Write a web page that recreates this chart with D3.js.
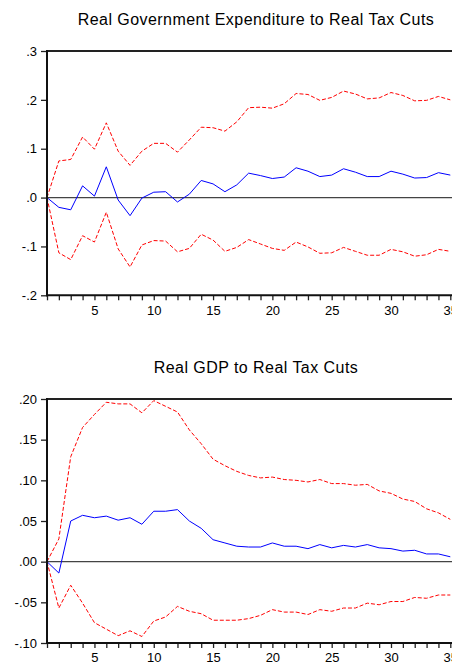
<!DOCTYPE html>
<html>
<head>
<meta charset="utf-8">
<script src="https://cdn.jsdelivr.net/npm/d3@7"></script>
<style>
  html, body { margin: 0; padding: 0; background: #fff; }
  svg { display: block; }
  text { font-family: "Liberation Sans", Arial, sans-serif; fill: #000; }
</style>
</head>
<body>
<svg id="chart" width="452" height="665"></svg>
<script>
// Impulse responses (periods 1..35) with +/- 2 S.E. bands
const periods = d3.range(1, 36);

const govTitle = "Real Government Expenditure to Real Tax Cuts";
const govResponse = [0, -0.020, -0.025, 0.024, 0.003, 0.063, -0.005, -0.037, -0.001, 0.011,
  0.012, -0.009, 0.007, 0.035, 0.028, 0.012, 0.026, 0.050, 0.045, 0.039,
  0.042, 0.061, 0.054, 0.043, 0.046, 0.059, 0.052, 0.043, 0.043, 0.054,
  0.048, 0.040, 0.041, 0.051, 0.046];
const govUpper = [0, 0.075, 0.078, 0.124, 0.099, 0.153, 0.095, 0.066, 0.095, 0.111,
  0.111, 0.093, 0.118, 0.144, 0.143, 0.136, 0.155, 0.184, 0.185, 0.183,
  0.192, 0.213, 0.211, 0.199, 0.205, 0.218, 0.212, 0.202, 0.204, 0.215,
  0.209, 0.198, 0.199, 0.207, 0.200];
const govLower = [0, -0.113, -0.127, -0.078, -0.091, -0.030, -0.105, -0.142, -0.097, -0.088,
  -0.089, -0.111, -0.104, -0.075, -0.087, -0.110, -0.102, -0.086, -0.095, -0.104,
  -0.108, -0.091, -0.101, -0.114, -0.113, -0.102, -0.110, -0.118, -0.118, -0.106,
  -0.111, -0.120, -0.117, -0.106, -0.110];
const govTicks = [-0.2, -0.1, 0, 0.1, 0.2, 0.3];
const govTickLabels = ["-.2", "-.1", ".0", ".1", ".2", ".3"];

const gdpTitle = "Real GDP to Real Tax Cuts";
const gdpResponse = [0, -0.014, 0.050, 0.057, 0.054, 0.056, 0.051, 0.054, 0.046, 0.062,
  0.062, 0.064, 0.050, 0.041, 0.027, 0.023, 0.019, 0.018, 0.018, 0.023,
  0.019, 0.019, 0.016, 0.021, 0.017, 0.020, 0.018, 0.021, 0.017, 0.016,
  0.013, 0.014, 0.0095, 0.0095, 0.006];
const gdpUpper = [0, 0.028, 0.129, 0.165, 0.181, 0.196, 0.194, 0.194, 0.183, 0.198,
  0.191, 0.184, 0.162, 0.145, 0.126, 0.118, 0.111, 0.106, 0.103, 0.104,
  0.101, 0.100, 0.098, 0.101, 0.096, 0.096, 0.094, 0.095, 0.087, 0.084,
  0.077, 0.074, 0.065, 0.060, 0.052];
const gdpLower = [0, -0.057, -0.029, -0.051, -0.075, -0.083, -0.091, -0.085, -0.092, -0.073,
  -0.068, -0.055, -0.061, -0.064, -0.072, -0.072, -0.072, -0.070, -0.066, -0.059,
  -0.062, -0.062, -0.065, -0.059, -0.061, -0.057, -0.057, -0.051, -0.053, -0.049,
  -0.049, -0.044, -0.045, -0.041, -0.041];
const gdpTicks = [-0.10, -0.05, 0, 0.05, 0.10, 0.15, 0.20];
const gdpTickLabels = ["-.10", "-.05", ".00", ".05", ".10", ".15", ".20"];

const xTickLabels = [5, 10, 15, 20, 25, 30, 35];

const svg = d3.select("#chart");
const plotLeft = 47, plotRight = 450.3;

function panel(cfg) {
  const g = svg.append("g");
  const x = d3.scaleLinear().domain([1, 35]).range([plotLeft, plotRight]);
  const y = d3.scaleLinear().domain(cfg.yDomain).range([cfg.bottom, cfg.top]);

  // title, centred over the full plot frame
  g.append("text")
    .attr("x", 256).attr("y", cfg.titleY)
    .attr("text-anchor", "middle")
    .style("font-size", "16px")
    .style("letter-spacing", "0.45px")
    .text(cfg.title);

  // zero line
  g.append("line")
    .attr("x1", plotLeft).attr("x2", 470)
    .attr("y1", y(0)).attr("y2", y(0))
    .attr("stroke", "#444").attr("stroke-width", 1.3);

  const line = d3.line().x((d, i) => x(periods[i])).y(d => y(d));

  g.append("path").datum(cfg.upper)
    .attr("d", line).attr("fill", "none")
    .attr("stroke", "#ff0000").attr("stroke-width", 1)
    .attr("stroke-dasharray", "4,2");
  g.append("path").datum(cfg.lower)
    .attr("d", line).attr("fill", "none")
    .attr("stroke", "#ff0000").attr("stroke-width", 1)
    .attr("stroke-dasharray", "4,2");
  g.append("path").datum(cfg.response)
    .attr("d", line).attr("fill", "none")
    .attr("stroke", "#0000ff").attr("stroke-width", 1);

  // frame top
  g.append("line")
    .attr("x1", plotLeft).attr("x2", 470)
    .attr("y1", cfg.top).attr("y2", cfg.top)
    .attr("stroke", "#222").attr("stroke-width", 2);

  // y axis
  const yAxis = d3.axisLeft(y)
    .tickValues(cfg.ticks)
    .tickSize(6).tickPadding(4)
    .tickFormat((d, i) => cfg.tickLabels[i]);
  const ya = g.append("g").attr("transform", `translate(${plotLeft},0)`).call(yAxis);
  ya.select(".domain").remove();
  ya.selectAll(".tick line").attr("stroke", "#222").attr("stroke-width", 1.3);
  ya.selectAll("text").style("font-size", "13px").style("font-family", "Liberation Sans, Arial, sans-serif");
  g.append("line")
    .attr("x1", plotLeft).attr("x2", plotLeft)
    .attr("y1", cfg.top - 1).attr("y2", cfg.bottom + 1)
    .attr("stroke", "#111").attr("stroke-width", 2);

  // x axis: minor tick every period, labels every five
  const xAxis = d3.axisBottom(x)
    .tickValues(periods)
    .tickSize(5).tickPadding(5)
    .tickFormat(d => xTickLabels.includes(d) ? d : "");
  const xa = g.append("g").attr("transform", `translate(0,${cfg.bottom})`).call(xAxis);
  xa.select(".domain").remove();
  xa.selectAll(".tick line").attr("stroke", "#222").attr("stroke-width", 1.3);
  xa.selectAll("text").style("font-size", "13px").style("font-family", "Liberation Sans, Arial, sans-serif");
  g.append("line")
    .attr("x1", plotLeft - 1).attr("x2", 470)
    .attr("y1", cfg.bottom).attr("y2", cfg.bottom)
    .attr("stroke", "#111").attr("stroke-width", 2);
}

panel({
  title: govTitle, titleY: 25,
  response: govResponse, upper: govUpper, lower: govLower,
  yDomain: [-0.2, 0.3], top: 51, bottom: 295.3,
  ticks: govTicks, tickLabels: govTickLabels
});

panel({
  title: gdpTitle, titleY: 373,
  response: gdpResponse, upper: gdpUpper, lower: gdpLower,
  yDomain: [-0.10, 0.20], top: 399, bottom: 643,
  ticks: gdpTicks, tickLabels: gdpTickLabels
});
</script>
</body>
</html>
